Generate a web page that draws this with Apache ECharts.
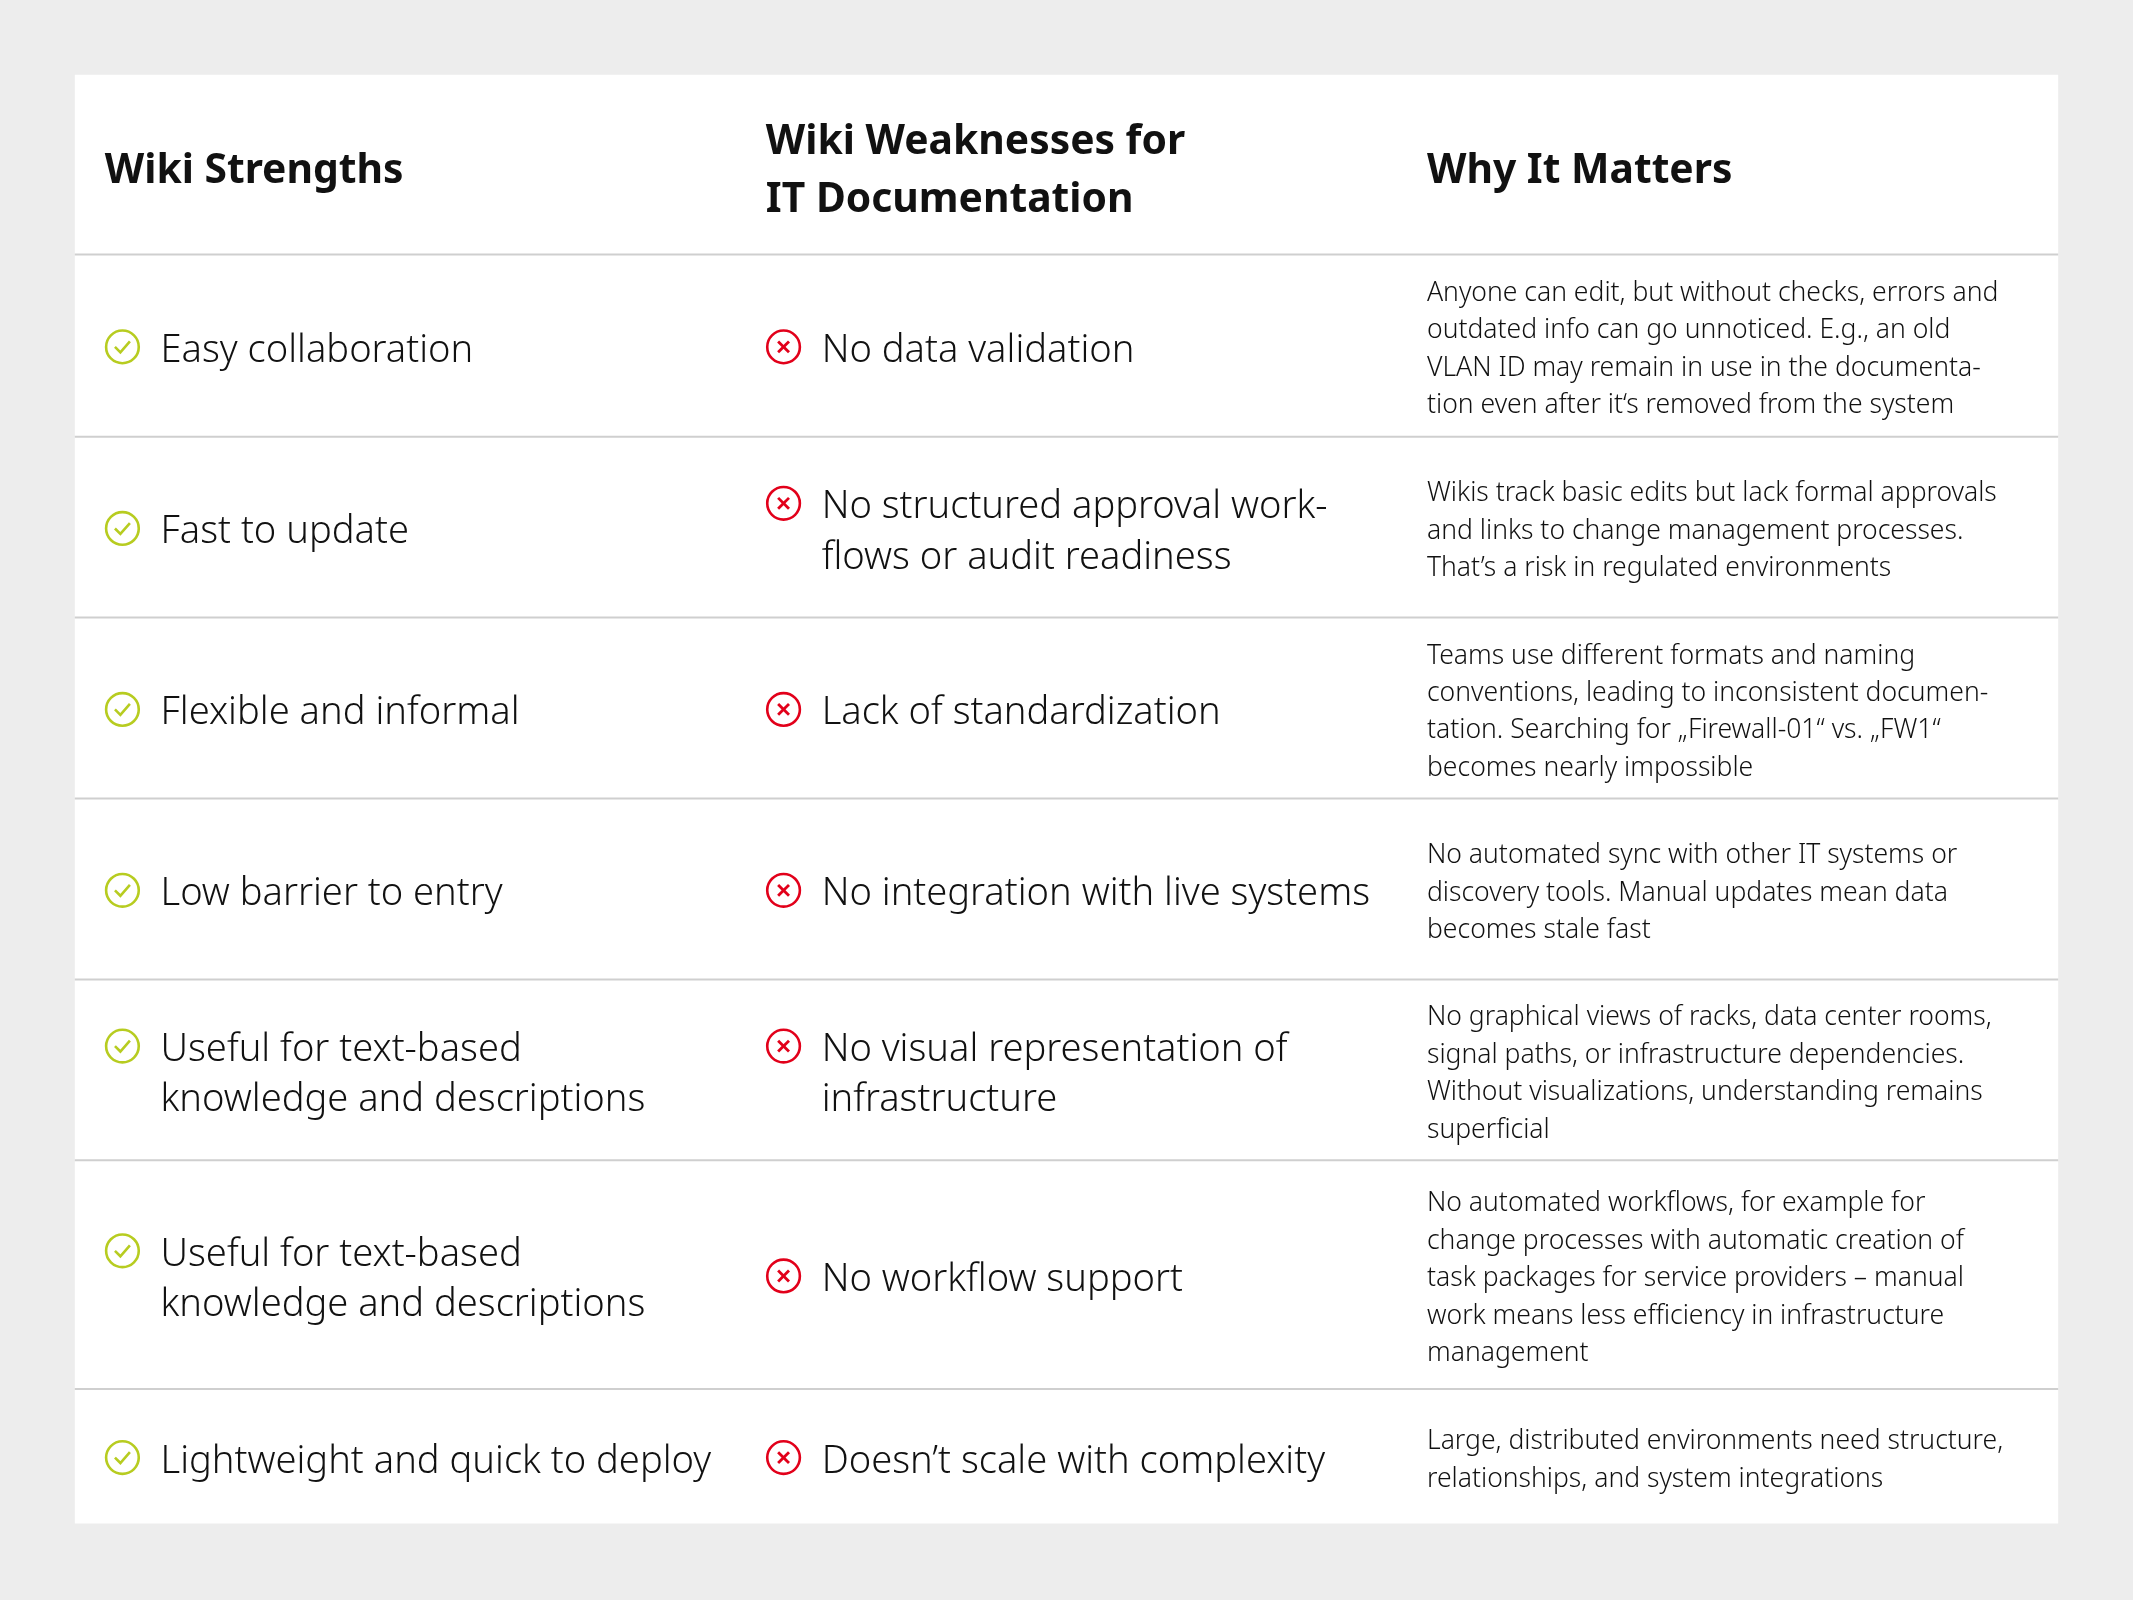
<!DOCTYPE html>
<html><head><meta charset="utf-8">
<script src="https://cdn.jsdelivr.net/npm/echarts@6/dist/echarts.min.js"></script>
<style>html,body{margin:0;padding:0;background:#ededed}#c{width:2133px;height:1600px}</style>
</head><body><div id="c"></div>
<script>
const headers = ["Wiki Strengths", "Wiki Weaknesses for\nIT Documentation", "Why It Matters"];
const strengths = ["Easy collaboration","Fast to update","Flexible and informal","Low barrier to entry",
 "Useful for text-based\nknowledge and descriptions","Useful for text-based\nknowledge and descriptions","Lightweight and quick to deploy"];
const weaknesses = ["No data validation","No structured approval work-\nflows or audit readiness","Lack of standardization",
 "No integration with live systems","No visual representation of\ninfrastructure","No workflow support","Doesn’t scale with complexity"];
const reasons = [
 "Anyone can edit, but without checks, errors and\noutdated info can go unnoticed. E.g., an old\nVLAN ID may remain in use in the documenta-\ntion even after it‘s removed from the system",
 "Wikis track basic edits but lack formal approvals\nand links to change management processes.\nThat’s a risk in regulated environments",
 "Teams use different formats and naming\nconventions, leading to inconsistent documen-\ntation. Searching for „Firewall-01“ vs. „FW1“\nbecomes nearly impossible",
 "No automated sync with other IT systems or\ndiscovery tools. Manual updates mean data\nbecomes stale fast",
 "No graphical views of racks, data center rooms,\nsignal paths, or infrastructure dependencies.\nWithout visualizations, understanding remains\nsuperficial",
 "No automated workflows, for example for\nchange processes with automatic creation of\ntask packages for service providers – manual\nwork means less efficiency in infrastructure\nmanagement",
 "Large, distributed environments need structure,\nrelationships, and system integrations"];
const rowBounds = [187,321,454,587,720,853,1021,1120];

const s = 2133/1568;
const F = '"Noto Sans", sans-serif';
const g = [];
g.push({type:'rect',shape:{x:55*s,y:55*s,width:1458*s,height:1065*s},style:{fill:'#fff'}});
const colX=[77,563,1049];
headers.forEach((h,i)=>{
  g.push({type:'text',x:colX[i]*s,y:126*s,style:{text:h,font:`bold ${30*s}px ${F}`,fill:'#111',
    textVerticalAlign:'middle',lineHeight:42*s}});
});
for(let i=0;i<7;i++){
  const y0=rowBounds[i],y1=rowBounds[i+1],cy=(y0+y1)/2;
  g.push({type:'line',shape:{x1:55*s,y1:y0*s,x2:1513*s,y2:y0*s},style:{stroke:'#cfcfcf',lineWidth:2}});
  const LH=37;
  [[strengths[i],90,'#b7cc20',true],[weaknesses[i],576,'#e2001a',false]].forEach(([t,ix,col,ok])=>{
    const n=t.split('\n').length;
    const firstY=cy-(n-1)*LH/2+1;
    g.push({type:'text',x:(ix+28)*s,y:(cy+4)*s,style:{text:t,font:`300 ${28*s}px ${F}`,fill:'#111',
      textVerticalAlign:'middle',lineHeight:LH*s}});
    g.push({type:'circle',shape:{cx:ix*s,cy:(firstY)*s,r:12*s},style:{fill:'none',stroke:col,lineWidth:2.6}});
    if(ok){
      g.push({type:'polyline',shape:{points:[[(ix-5.5)*s,(firstY)*s],[(ix-1.5)*s,(firstY+4)*s],[(ix+5.5)*s,(firstY-4)*s]]},style:{stroke:col,lineWidth:2.6,fill:'none'}});
    }else{
      g.push({type:'line',shape:{x1:(ix-4)*s,y1:(firstY-4)*s,x2:(ix+4)*s,y2:(firstY+4)*s},style:{stroke:col,lineWidth:2.8}});
      g.push({type:'line',shape:{x1:(ix+4)*s,y1:(firstY-4)*s,x2:(ix-4)*s,y2:(firstY+4)*s},style:{stroke:col,lineWidth:2.8}});
    }
  });
  g.push({type:'text',x:1049*s,y:(cy+3)*s,style:{text:reasons[i],font:`300 ${19.5*s}px ${F}`,fill:'#111',
    textVerticalAlign:'middle',lineHeight:27.5*s}});
}
const chart=echarts.init(document.getElementById('c'));
chart.setOption({backgroundColor:'#ededed',graphic:g});
</script></body></html>
